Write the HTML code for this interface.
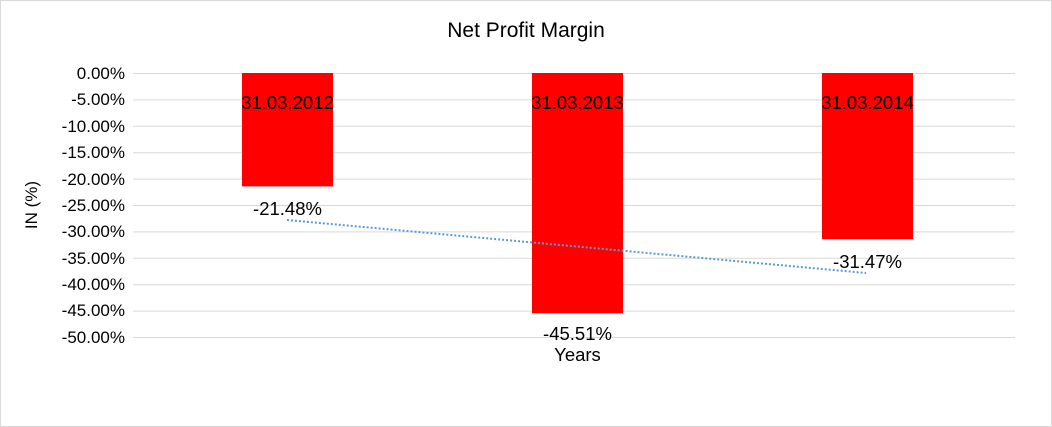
<!DOCTYPE html>
<html><head><style>
body{margin:0;background:#fff;}
svg{display:block;font-family:"Liberation Sans",Arial,sans-serif;}
</style></head><body>
<svg width="1052" height="427" viewBox="0 0 1052 427">
<rect x="0.5" y="0.5" width="1051" height="426" fill="#fff" stroke="#d9d9d9"/>
<text x="526" y="37" font-size="21" text-anchor="middle" fill="#000">Net Profit Margin</text>
<g stroke="#d9d9d9" stroke-width="1">
<line x1="133" x2="1015" y1="73.5" y2="73.5"/>
<line x1="133" x2="1015" y1="99.9" y2="99.9"/>
<line x1="133" x2="1015" y1="126.3" y2="126.3"/>
<line x1="133" x2="1015" y1="152.7" y2="152.7"/>
<line x1="133" x2="1015" y1="179.1" y2="179.1"/>
<line x1="133" x2="1015" y1="205.5" y2="205.5"/>
<line x1="133" x2="1015" y1="231.9" y2="231.9"/>
<line x1="133" x2="1015" y1="258.3" y2="258.3"/>
<line x1="133" x2="1015" y1="284.7" y2="284.7"/>
<line x1="133" x2="1015" y1="311.1" y2="311.1"/>
<line x1="133" x2="1015" y1="337.5" y2="337.5"/>
</g>
<g font-size="17" text-anchor="end" fill="#000">
<text x="125" y="79">0.00%</text>
<text x="125" y="105">-5.00%</text>
<text x="125" y="132">-10.00%</text>
<text x="125" y="158">-15.00%</text>
<text x="125" y="185">-20.00%</text>
<text x="125" y="211">-25.00%</text>
<text x="125" y="237">-30.00%</text>
<text x="125" y="264">-35.00%</text>
<text x="125" y="290">-40.00%</text>
<text x="125" y="316">-45.00%</text>
<text x="125" y="343">-50.00%</text>
</g>
<text transform="translate(37,205) rotate(-90)" font-size="17" text-anchor="middle">IN (%)</text>
<rect x="242" y="73" width="91" height="113.4" fill="#ff0000"/>
<rect x="532" y="73" width="91" height="240.3" fill="#ff0000"/>
<rect x="822" y="73" width="91" height="166.2" fill="#ff0000"/>
<g font-size="18.5" text-anchor="middle" fill="#000">
<text x="287.5" y="109">31.03.2012</text>
<text x="577.5" y="109">31.03.2013</text>
<text x="867.5" y="109">31.03.2014</text>
<text x="287.5" y="215">-21.48%</text>
<text x="577.5" y="340">-45.51%</text>
<text x="867.5" y="268">-31.47%</text>
<text x="577.5" y="361">Years</text>
</g>
<line x1="287" y1="220" x2="866" y2="273" stroke="#5b9bd5" stroke-width="2" stroke-dasharray="2,2"/>
</svg>
</body></html>
